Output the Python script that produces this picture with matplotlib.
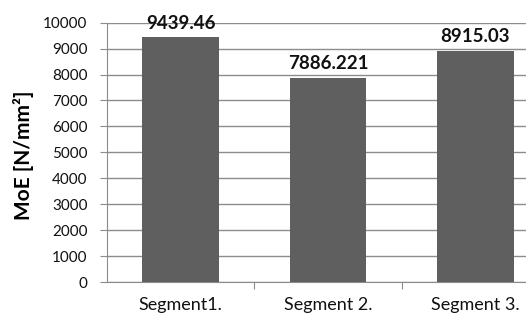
from matplotlib import pyplot as plt
import numpy as np

categories = ["Segment1.", "Segment 2.", "Segment 3."]
moe = [9439.46, 7886.221, 8915.03]
value_labels = ["9439.46", "7886.221", "8915.03"]
y_ticks = list(range(0, 10001, 1000))

plt.rcParams['font.family'] = ['Lato', 'DejaVu Sans']

fig = plt.figure(figsize=(5.26, 3.2), dpi=100)
# the plot area runs past the right edge of the picture, as in the original
ax = fig.add_axes([107/526, 38/320, 442/526, 259.3/320])

x = np.arange(len(categories))
ax.bar(x, moe, width=0.52, color="#5f5f5f", zorder=3)

for xi, v, lab in zip(x, moe, value_labels):
	ax.annotate(lab, (xi, v), xytext=(0, 4), textcoords="offset points",
		ha="center", va="bottom", fontsize=13.5, fontweight="bold", color="#111111")

ax.set_xlim(-0.5, 2.5)
ax.set_ylim(0, 10000)
ax.set_yticks(y_ticks)
ax.set_yticklabels([str(t) for t in y_ticks], fontsize=11, color="#111111")
ax.set_xticks([0.5, 1.5])
ax.set_xticks(x, minor=True)
ax.set_xticklabels([])
ax.set_xticklabels(categories, minor=True, fontsize=13, color="#111111")
ax.tick_params(axis="x", which="minor", length=0, pad=11)
ax.tick_params(axis="x", which="major", length=5, color="#8c8c8c")
ax.tick_params(axis="y", length=5, color="#8c8c8c", pad=9)

ax.grid(True, axis="y", color="#8c8c8c", linewidth=1, zorder=0)
for s in ["top", "right"]:
	ax.spines[s].set_visible(False)
ax.spines["left"].set_color("#8c8c8c")
ax.spines["bottom"].set_color("#8c8c8c")

ax.set_ylabel("MoE [N/mm²]", fontsize=15, fontweight="bold")
ax.yaxis.set_label_coords(-0.165, 0.49)

fig.savefig("out.png", dpi=100)
plt.close(fig)
